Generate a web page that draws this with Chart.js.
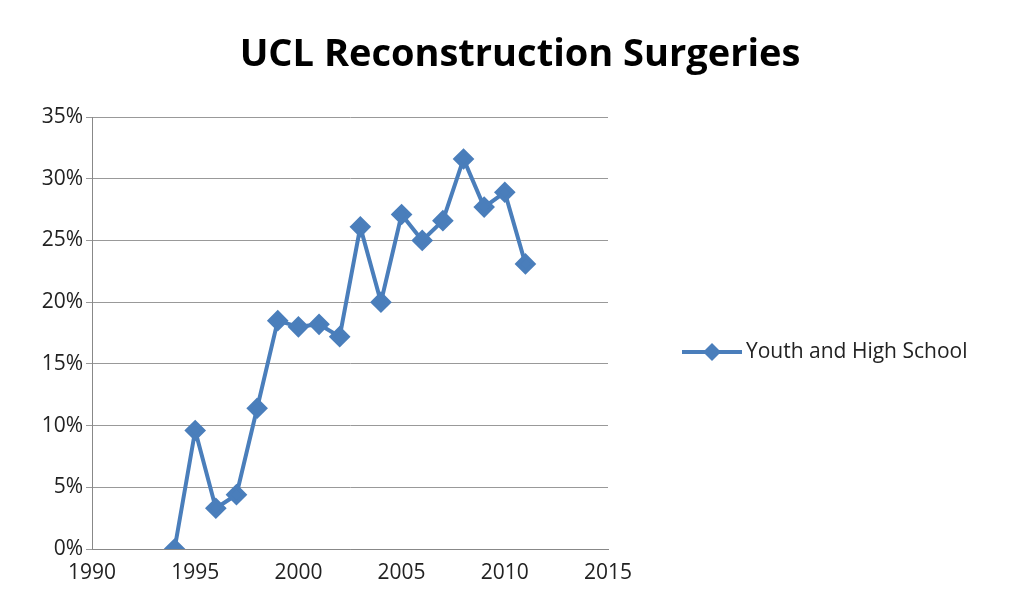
<!DOCTYPE html>
<html><head><meta charset="utf-8">
<script src="https://cdn.jsdelivr.net/npm/chart.js@4/dist/chart.umd.min.js"></script>
<style>body{margin:0;background:#fff}</style></head>
<body><canvas id="c" width="1030" height="615"></canvas>
<script>
const years=[1994,1995,1996,1997,1998,1999,2000,2001,2002,2003,2004,2005,2006,2007,2008,2009,2010,2011];
const values=[0,9.6,3.3,4.4,11.4,18.5,18.0,18.2,17.2,26.1,20.0,27.1,25.0,26.6,31.6,27.7,28.9,23.1];
const seriesName="Youth and High School";
const titleText="UCL Reconstruction Surgeries";
const color="#4A7EBB";
const fam="'Open Sans', 'Liberation Sans', sans-serif";
const deco={id:'deco',afterDraw(c){const x=c.ctx;x.save();
x.fillStyle='#000';x.font="bold 38px "+fam;x.textAlign='center';x.textBaseline='middle';
x.fillText(titleText,520,55);
const ly=352;x.strokeStyle=color;x.lineWidth=4;x.beginPath();x.moveTo(682,ly);x.lineTo(742,ly);x.stroke();
x.fillStyle=color;x.beginPath();x.moveTo(712,ly-9);x.lineTo(721,ly);x.lineTo(712,ly+9);x.lineTo(703,ly);x.closePath();x.fill();
x.fillStyle='#222';x.font="21px "+fam;x.textAlign='left';x.fillText(seriesName,746,ly);x.restore();}};
new Chart(document.getElementById('c'),{type:'line',
data:{datasets:[{label:seriesName,data:years.map((y,i)=>({x:y,y:values[i]})),borderColor:color,backgroundColor:color,borderWidth:4,pointStyle:'rectRot',pointRadius:8,pointHoverRadius:8,tension:0}]},
options:{responsive:false,animation:false,layout:{padding:{top:117,right:422,left:0,bottom:0}},
plugins:{legend:{display:false},title:{display:false},tooltip:{enabled:false}},
scales:{x:{type:'linear',min:1990,max:2015,ticks:{stepSize:5,color:'#222',font:{size:21,family:fam},callback:v=>String(v)},grid:{display:false,drawTicks:true},border:{color:'#888'},afterFit:s=>{s.height=66}},
y:{min:0,max:35,ticks:{stepSize:5,color:'#222',font:{size:21,family:fam},callback:v=>v+'%'},grid:{color:'#999',tickLength:6},border:{color:'#888'},afterFit:s=>{s.width=92}}}},
plugins:[deco]});
</script></body></html>
